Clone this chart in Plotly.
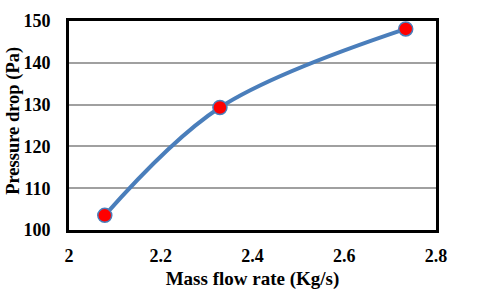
import plotly.graph_objects as go

mass_flow = [2.078, 2.329, 2.734]
pressure_drop = [103.5, 129.3, 148.1]
x_ticks = [2, 2.2, 2.4, 2.6, 2.8]
x_tick_labels = ["2", "2.2", "2.4", "2.6", "2.8"]
y_ticks = [100, 110, 120, 130, 140, 150]

font_family = "Times New Roman, Liberation Serif, DejaVu Serif, serif"

fig = go.Figure()
fig.add_trace(go.Scatter(
    x=mass_flow, y=pressure_drop,
    mode="lines+markers",
    line=dict(color="#4a7ebb", width=4, shape="spline", smoothing=1.0),
    marker=dict(color="#ff0000", size=14, line=dict(color="#4a7ebb", width=1.5)),
    showlegend=False,
))

fig.update_layout(
    width=480, height=297,
    margin=dict(l=69, r=44, t=21, b=67, autoexpand=False),
    paper_bgcolor="white", plot_bgcolor="white",
    font=dict(family=font_family, size=18, color="black"),
    xaxis=dict(
        range=[2, 2.8], tickvals=x_ticks, ticktext=x_tick_labels,
        showgrid=False, showline=True, linecolor="black", linewidth=3, mirror=True,
        ticks="", ticklabelstandoff=7, zeroline=False, automargin=False,
        tickfont=dict(family=font_family, size=18, weight="bold"),
        title=dict(text="<b>Mass flow rate (Kg/s)</b>", font=dict(family=font_family, size=19), standoff=8),
    ),
    yaxis=dict(
        range=[100, 150], tickvals=y_ticks,
        showgrid=True, gridcolor="#a0a0a0", gridwidth=1.5,
        showline=True, linecolor="black", linewidth=3, mirror=True,
        ticks="", ticklabelstandoff=12, zeroline=False, automargin=False,
        tickfont=dict(family=font_family, size=18, weight="bold"),
    ),
    annotations=[dict(
        text="<b>Pressure drop (Pa)</b>", textangle=-90,
        xref="paper", yref="paper", x=-0.150, y=0.522,
        xanchor="center", yanchor="middle", showarrow=False,
        font=dict(family=font_family, size=18.5, color="black"),
    )],
)

fig.write_html("out.html", config={"displayModeBar": False},
               post_script="document.body.style.margin='0';")
